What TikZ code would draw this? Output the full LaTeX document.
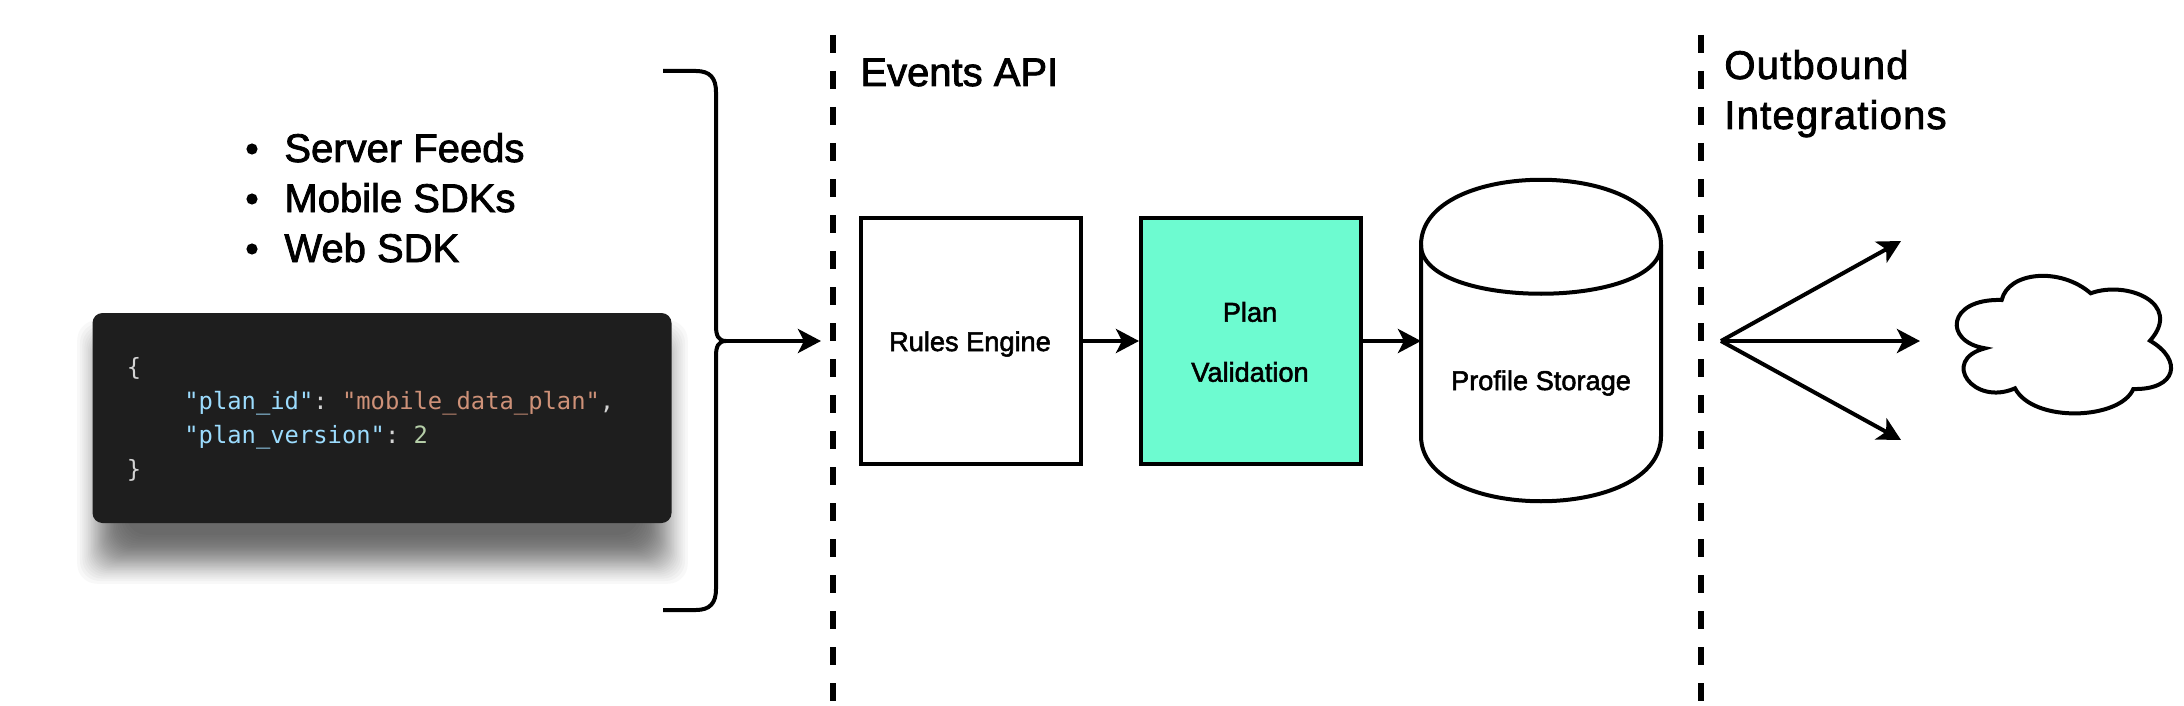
\documentclass[tikz,border=0pt]{standalone}
\usepackage{fontspec}
\setmainfont{Liberation Sans}[FakeBold=2]
\setmonofont{DejaVu Sans Mono}
\usetikzlibrary{arrows.meta}
\definecolor{mint}{HTML}{6DFBD0}
\definecolor{codebg}{HTML}{1E1E1E}
\definecolor{codekey}{HTML}{9CDCFE}
\definecolor{codestr}{HTML}{CE9178}
\definecolor{codenum}{HTML}{B5CEA8}
\definecolor{codepun}{HTML}{D4D4D4}
\tikzset{
  flow/.style={line width=2pt,-{Stealth[length=11.5pt,width=12pt,inset=3pt]}},
  outline/.style={line width=2pt},
  divider/.style={line width=3pt,dash pattern=on 9pt off 9pt},
  stage/.style={draw,line width=2pt,minimum width=110pt,minimum height=123pt,inner sep=0pt},
  heading/.style={anchor=base west,inner sep=0pt,font=\fontsize{20}{24}\selectfont},
  wideheading/.style={anchor=base west,inner sep=0pt,font=\fontsize{20}{24}\selectfont\addfontfeatures{LetterSpace=3}},
  dot/.style={circle,fill,inner sep=0pt,minimum size=5.6pt},
  small/.style={inner sep=0pt,font=\fontsize{13.6}{17}\selectfont},
  code/.style={anchor=base west,inner sep=0pt,text=codepun,font=\ttfamily\fontsize{11.9}{14}\selectfont}
}
\begin{document}
\begin{tikzpicture}[x=0.5pt,y=-0.5pt]
   \useasboundingbox (0,0) rectangle (2184,706);
   %dividers
   \draw[divider] (833,35) -- (833,702);
   \draw[divider] (1701,35) -- (1701,702);
   %sources
   \node[dot] (feedsdot) at (252,149) {};
   \node[dot] (mobiledot) at (252,199) {};
   \node[dot] (webdot) at (252,249) {};
   \node[heading] (feeds) at (284,162) {Server Feeds};
   \node[heading] (mobile) at (284,212) {Mobile SDKs};
   \node[heading] (web) at (284,262) {Web SDK};
   %shadow
   \foreach \i in {5,...,36}{
     \pgfmathsetmacro{\g}{12*ln((\i-0.5)/(40.5-\i))}
     \fill[black,opacity=0.026,rounded corners=10pt] ({102-\g},{345-\g}) rectangle ({663+\g},{559+\g});
   }
   %code box
   \node[fill=codebg,rounded corners=5pt,minimum width=289.5pt,minimum height=105pt,inner sep=0pt]
     (plan) at (382,418) {};
   \node[code] (open) at (126.5,375) {\{};
   \node[code] (id) at (184,409) {\textcolor{codekey}{"plan\_id"}: \textcolor{codestr}{"mobile\_data\_plan"},};
   \node[code] (version) at (184,443) {\textcolor{codekey}{"plan\_version"}: \textcolor{codenum}{2}};
   \node[code] (close) at (126.5,477) {\}};
   %brace
   \coordinate (brace) at (722,341);
   \coordinate (intake) at (821,341);
   \draw[outline] (663,71) -- (696,71) .. controls (710,71) and (716,78) .. (716,92) -- (716,326)
     .. controls (716,335) and (718,341) .. (726,341);
   \draw[outline] (663,610) -- (696,610) .. controls (710,610) and (716,603) .. (716,589) -- (716,356)
     .. controls (716,347) and (718,341) .. (726,341);
   \draw[flow] (brace) -- (intake);
   %events api
   \node[heading] (events) at (860,86) {Events API};
   \node[stage] (rules) at (971,341) {};
   \node[small] (ruleslabel) at (970,344) {Rules Engine};
   \node[stage,fill=mint] (validation) at (1251,341) {};
   \node[small] (planlabel) at (1250,312) {Plan};
   \node[small] (validlabel) at (1250,372) {Validation};
   %storage
   \coordinate (store) at (1421,341);
   \draw[outline] (1421,245) .. controls (1421,158) and (1661,158) .. (1661,245) -- (1661,436)
     .. controls (1661,523) and (1421,523) .. (1421,436) -- cycle;
   \draw[outline] (1421,245) .. controls (1421,310) and (1661,310) .. (1661,245);
   \node[small] (storagelabel) at (1541,383) {Profile Storage};
   \draw[flow] (rules) -- (validation);
   \draw[flow] (validation) -- (store);
   %outbound
   \node[wideheading] (outbound) at (1724,79) {Outbound};
   \node[wideheading] (integrations) at (1724,129) {Integrations};
   \coordinate (fan) at (1721,341);
   \coordinate (fanup) at (1901,241);
   \coordinate (fanmid) at (1920,341);
   \coordinate (fandown) at (1901,440);
   \draw[flow] (fan) -- (fanup);
   \draw[flow] (fan) -- (fanmid);
   \draw[flow] (fan) -- (fandown);
   %cloud
   \draw[outline] (1985,348.3) .. controls (1943.3,341.7) and (1946.7,298.3) .. (2001.7,300)
     .. controls (2008.3,271.7) and (2060,266.7) .. (2090.7,293.3)
     .. controls (2126.7,280) and (2183.3,303.3) .. (2150,340.7)
     .. controls (2183.3,360) and (2176.7,390) .. (2133.3,389)
     .. controls (2120,420) and (2033.3,423.3) .. (2015,388.3)
     .. controls (1973.3,406.7) and (1940,360) .. (1985,348.3) -- cycle;
\end{tikzpicture}
\end{document}
